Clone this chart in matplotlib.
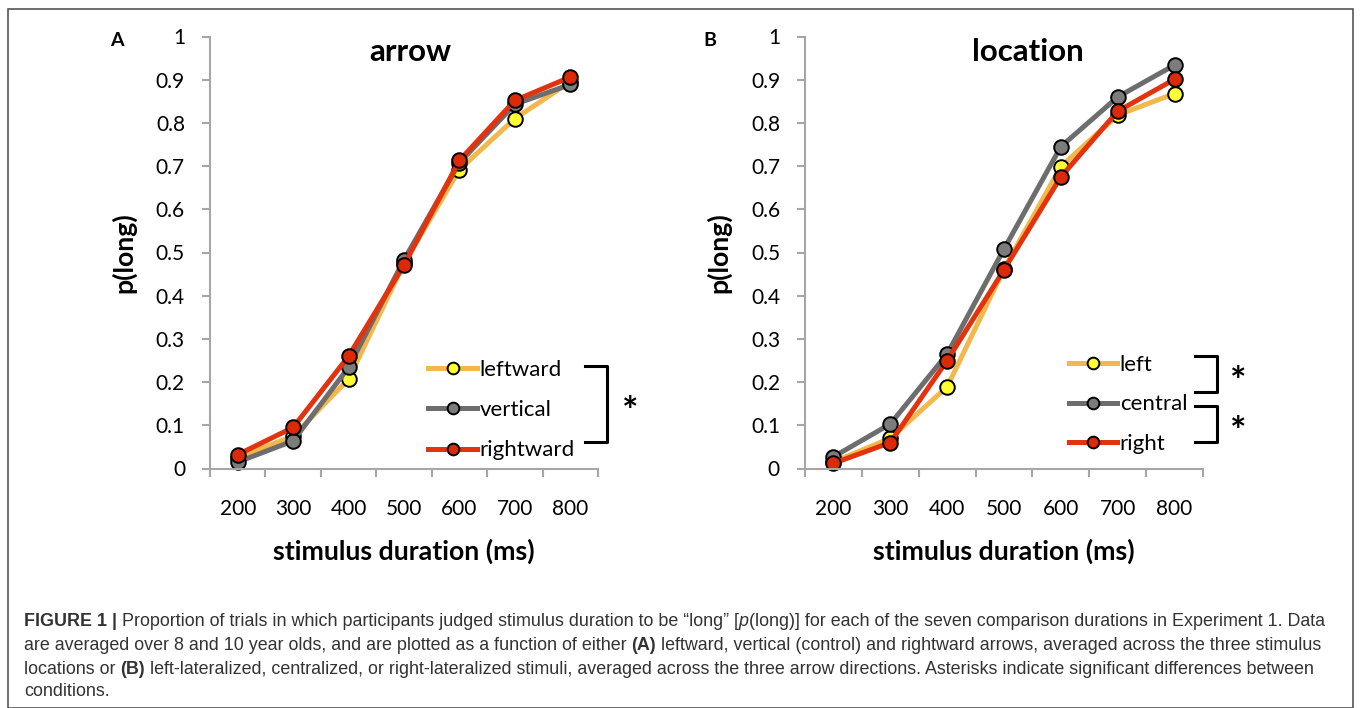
import matplotlib
matplotlib.use("Agg")
import matplotlib.pyplot as plt
from matplotlib.lines import Line2D
from matplotlib.patches import Rectangle

# Daten
durations = ["200", "300", "400", "500", "600", "700", "800"]

arrow_left = [0.025, 0.075, 0.207, 0.475, 0.692, 0.810, 0.895]
arrow_vert = [0.015, 0.064, 0.234, 0.483, 0.708, 0.843, 0.889]
arrow_right = [0.032, 0.095, 0.260, 0.471, 0.713, 0.852, 0.906]

loc_left = [0.015, 0.070, 0.189, 0.462, 0.699, 0.818, 0.868]
loc_central = [0.027, 0.103, 0.265, 0.508, 0.745, 0.860, 0.934]
loc_right = [0.012, 0.060, 0.250, 0.460, 0.675, 0.827, 0.901]

yticks = [0, 0.1, 0.2, 0.3, 0.4, 0.5, 0.6, 0.7, 0.8, 0.9, 1]
ytick_labels = ["0", "0.1", "0.2", "0.3", "0.4", "0.5", "0.6", "0.7", "0.8", "0.9", "1"]

# Farben
c_yel_line, c_yel_face = "#f2b84b", "#ffff33"
c_gry_line, c_gry_face = "#6d6d6d", "#7c7c7c"
c_red_line, c_red_face = "#e2320e", "#dc2a08"
axis_grey = "#a6a6a6"

FONT = "Lato"

fig = plt.figure(figsize=(13.6, 7.08), dpi=100)

# Rahmen um die ganze Abbildung
fig.patches.append(Rectangle((8 / 1360, 0), 1345 / 1360, 1 - 9 / 708, transform=fig.transFigure,
                             fill=False, edgecolor="#555555", linewidth=1.2))


def setup_axis(ax, title, title_x):
    x = range(len(durations))
    ax.set_xlim(-0.5, len(durations) - 0.5)
    ax.set_ylim(0, 1)
    ax.set_xticks([i - 0.5 for i in range(len(durations) + 1)])
    ax.set_xticklabels([])
    ax.set_xticks(list(x), minor=True)
    ax.set_xticklabels(durations, minor=True, fontsize=15, family=FONT)
    ax.tick_params(axis="x", which="minor", length=0, pad=22)
    ax.tick_params(axis="x", which="major", length=6, width=1.5, color=axis_grey)
    ax.set_yticks(yticks)
    ax.set_yticklabels(ytick_labels, fontsize=15, family=FONT)
    ax.tick_params(axis="y", length=6, width=1.5, color=axis_grey, pad=12)
    for s in ["top", "right"]:
        ax.spines[s].set_visible(False)
    for s in ["left", "bottom"]:
        ax.spines[s].set_color(axis_grey)
        ax.spines[s].set_linewidth(1.5)
    ax.set_xlabel("stimulus duration (ms)", fontsize=19.3, fontweight="bold", family=FONT, labelpad=14)
    ax.set_ylabel("p(long)", fontsize=19.3, fontweight="bold", family=FONT, labelpad=14)
    ax.text(title_x, 0.964, title, transform=ax.transAxes, fontsize=22.5, fontweight="bold",
            family=FONT, ha="center", va="center")
    ax.patch.set_visible(False)


def plot_series(ax, vals, line_c, face_c, label):
    return ax.plot(range(len(durations)), vals, color=line_c, linewidth=3.6,
                   marker="o", markersize=10.5, markerfacecolor=face_c,
                   markeredgecolor="black", markeredgewidth=1.4, label=label,
                   clip_on=False)[0]


leg_kw = dict(loc="upper left", frameon=False, prop={"family": FONT, "size": 16},
              handlelength=2.2, handletextpad=0.1, borderaxespad=0, markerscale=0.8)

# Panel A
axA = fig.add_axes([210 / 1360, 1 - 468.5 / 708, 388 / 1360, 432 / 708])
setup_axis(axA, "arrow", 0.515)
plot_series(axA, arrow_left, c_yel_line, c_yel_face, "leftward")
plot_series(axA, arrow_vert, c_gry_line, c_gry_face, "vertical")
plot_series(axA, arrow_right, c_red_line, c_red_face, "rightward")
axA.legend(bbox_to_anchor=(0.54, 0.272), labelspacing=0.91, **leg_kw)

# Panel B
axB = fig.add_axes([805 / 1360, 1 - 468.5 / 708, 398 / 1360, 432 / 708])
setup_axis(axB, "location", 0.56)
plot_series(axB, loc_left, c_yel_line, c_yel_face, "left")
plot_series(axB, loc_central, c_gry_line, c_gry_face, "central")
plot_series(axB, loc_right, c_red_line, c_red_face, "right")
axB.legend(bbox_to_anchor=(0.64, 0.283), labelspacing=0.87, **leg_kw)

# Panel-Buchstaben
fig.text(117 / 1360, 1 - 40 / 708, "A", fontsize=14, fontweight="bold", family=FONT,
         ha="center", va="center")
fig.text(710 / 1360, 1 - 40 / 708, "B", fontsize=14, fontweight="bold", family=FONT,
         ha="center", va="center")


# Klammern fuer Signifikanz
def bracket(x0, x1, ytop, ybot):
    xs = [x0 / 1360, x1 / 1360, x1 / 1360, x0 / 1360]
    ys = [1 - ytop / 708, 1 - ytop / 708, 1 - ybot / 708, 1 - ybot / 708]
    fig.add_artist(Line2D(xs, ys, color="black", linewidth=2.2, solid_joinstyle="round"))


bracket(585, 607, 366, 442)
fig.text(630 / 1360, 1 - 412 / 708, "*", fontsize=28, fontweight="bold", family=FONT,
         ha="center", va="center")
bracket(1195, 1217, 356, 392)
bracket(1195, 1217, 406, 442)
fig.text(1238 / 1360, 1 - 383 / 708, "*", fontsize=28, fontweight="bold", family=FONT,
         ha="center", va="center")
fig.text(1238 / 1360, 1 - 433 / 708, "*", fontsize=28, fontweight="bold", family=FONT,
         ha="center", va="center")

# Bildunterschrift mit fett gesetzten Teilen
caption = [
    [("FIGURE 1 | ", "bold"), ("Proportion of trials in which participants judged stimulus duration to be \u201clong\u201d [", "normal"),
     ("p", "italic"), ("(long)] for each of the seven comparison durations in Experiment 1. Data", "normal")],
    [("are averaged over 8 and 10 year olds, and are plotted as a function of either ", "normal"), ("(A)", "bold"),
     (" leftward, vertical (control) and rightward arrows, averaged across the three stimulus", "normal")],
    [("locations or ", "normal"), ("(B)", "bold"),
     (" left-lateralized, centralized, or right-lateralized stimuli, averaged across the three arrow directions. Asterisks indicate significant differences between", "normal")],
    [("conditions.", "normal")],
]
line_y = [622, 645, 669, 692]

fig.canvas.draw()
renderer = fig.canvas.get_renderer()
for runs, yy in zip(caption, line_y):
    x = 24
    for txt, style in runs:
        t = fig.text(x / 1360, 1 - yy / 708, txt, fontsize=12.9, family="Liberation Sans",
                     color="#333333", va="center", ha="left",
                     fontweight="bold" if style == "bold" else "normal",
                     fontstyle="italic" if style == "italic" else "normal")
        bb = t.get_window_extent(renderer)
        x += bb.width

fig.savefig("out.png", dpi=100)
